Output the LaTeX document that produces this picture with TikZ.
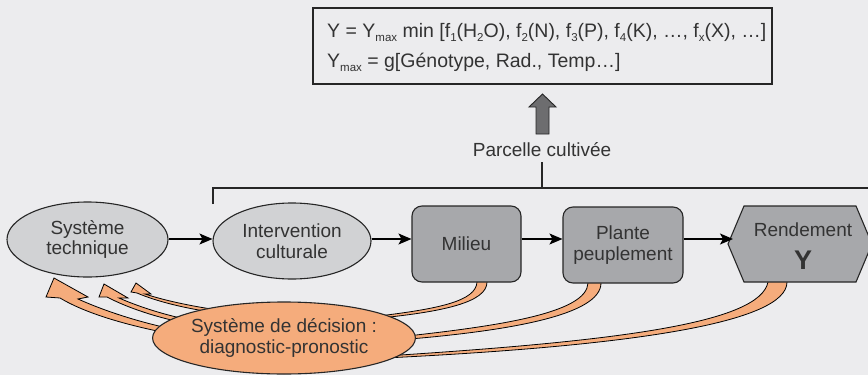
\documentclass[tikz,border=0pt]{standalone}
\usepackage{fontspec}
\setmainfont{Liberation Sans}
\usetikzlibrary{arrows.meta,shapes.geometric}
\definecolor{bgc}{HTML}{ECECEE}
\definecolor{ellc}{HTML}{D1D2D4}
\definecolor{boxc}{HTML}{A7A8AB}
\definecolor{orc}{HTML}{F5AC7C}
\definecolor{txc}{HTML}{333333}
\definecolor{arrc}{HTML}{6D6D6F}
\definecolor{lnc}{HTML}{262626}
\pgfdeclarelayer{bgzero}
\pgfdeclarelayer{bgone}
\pgfsetlayers{bgzero,bgone,main}
\newcommand{\sbs}[1]{\raisebox{-0.45ex}{\fontsize{11.5}{11.5}\selectfont #1}}
\tikzset{
  ell/.style={ellipse, draw=lnc, line width=1.1pt, fill=ellc, inner sep=0pt, align=center, text=txc},
  rbox/.style={rectangle, rounded corners=10pt, draw=lnc, line width=1.1pt, fill=boxc, inner sep=0pt, align=center, text=txc},
  arr/.style={draw=black, line width=1.3pt, -{Stealth[length=13pt,width=11pt,inset=3pt]}},
  band/.style={fill=orc, draw=black, line width=0.8pt, line join=miter},
  lbl/.style={text=txc, inner sep=0pt}
}
\begin{document}
\begin{tikzpicture}[x=1pt,y=-1pt, font=\fontsize{19}{20.5}\selectfont]
\begin{pgfonlayer}{bgzero}
\fill[bgc] (0,0) rectangle (868,375);
\end{pgfonlayer}
\useasboundingbox (0,0) rectangle (868,375);
\clip (0,0) rectangle (868,375);

% top equation box
\node[draw=lnc, line width=1.2pt, fill=bgc, minimum width=459pt, minimum height=76pt, inner sep=0pt] (eq) at (542.5,46) {};
\node[lbl, anchor=base west, font=\fontsize{19.5}{20.5}\selectfont] (eq1) at (327,37) {Y = Y\sbs{max} min [f\sbs{1}(H\sbs{2}O), f\sbs{2}(N), f\sbs{3}(P), f\sbs{4}(K), …, f\sbs{x}(X), …]};
\node[lbl, anchor=base west, font=\fontsize{19.5}{20.5}\selectfont] (eq2) at (327,67) {Y\sbs{max} = g[Génotype, Rad., Temp…]};

% grey up arrow
\draw[fill=arrc, draw=lnc, line width=0.9pt] (536,134) -- (536,107) -- (529,107) -- (542.5,94) -- (556,107) -- (549,107) -- (549,134) -- cycle;

% parcelle
\node[lbl] (parc) at (542,150) {Parcelle cultivée};
\coordinate (brl) at (213,188);
\coordinate (brr) at (872,188);
\coordinate (brt) at (213,204);
\draw[lnc, line width=1.3pt] (parc.south) ++(0,5) -- (parc.south |- brl);
\draw[lnc, line width=1.3pt] (brt) -- (brl) -- (brr);

% main nodes
\node[ell, minimum width=161pt, minimum height=75pt] (st) at (87.5,239.5) {Système\\technique};
\node[ell, minimum width=158pt, minimum height=76pt] (iv) at (292,241) {Intervention\\culturale};
\node[rbox, minimum width=109pt, minimum height=76pt] (mil) at (466.5,244) {Milieu};
\node[rbox, minimum width=120pt, minimum height=76pt] (pl) at (623,245) {Plante\\peuplement};
\draw[lnc, line width=1.1pt, fill=boxc] (728,244) -- (744,206) -- (856,206) -- (872,244) -- (856,282) -- (744,282) -- cycle;
\node[lbl] (rend) at (803,230) {Rendement};
\node[lbl, font=\bfseries\fontsize{27}{27}\selectfont] (ry) at (803,260) {Y};
\coordinate (ay) at (0,239);
\coordinate (rin) at (733,239);

\draw[arr] (st.east |- ay) -- (iv.west |- ay);
\draw[arr] (iv.east |- ay) -- (mil.west |- ay);
\draw[arr] (mil.east |- ay) -- (pl.west |- ay);
\draw[arr] (pl.east |- ay) -- (rin);

% decision ellipse
\node[ell, fill=orc, minimum width=256pt, minimum height=72pt] (dec) at (284,338) {Système de décision :\\diagnostic-pronostic};

% orange bands and arrows behind
\begin{pgfonlayer}{bgone}
\draw[band] (54,278) -- (46,297) -- (60,298) .. controls (85,313) and (125,325) .. (172,334) -- (172,329) .. controls (130,320) and (98,308) .. (78,299) -- (88,297) -- cycle;
\draw[band] (104,284) -- (99,297) -- (107,297) .. controls (128,308) and (158,318) .. (190,324) -- (190,320) .. controls (160,314) and (135,305) .. (119,298) -- (128,298) -- cycle;
\draw[band] (136,283) -- (131,292) -- (137,293) .. controls (158,302) and (188,309) .. (218,313) -- (218,310) .. controls (190,306) and (163,300) .. (145,294) -- (151,294) -- cycle;
\draw[band] (477,276) -- (477,282) .. controls (476,301) and (440,309) .. (370,317) -- (370,319) .. controls (445,312) and (487,302) .. (487,282) -- (487,276) -- cycle;
\draw[band] (588,276) -- (588,283) .. controls (587,313) and (500,326) .. (398,337) -- (398,340) .. controls (510,331) and (601,315) .. (601,283) -- (601,276) -- cycle;
\draw[band] (768,276) -- (768,282) .. controls (760,323) and (620,341) .. (385,356) -- (385,358) .. controls (630,346) and (787,323) .. (787,282) -- (787,276) -- cycle;
\end{pgfonlayer}
\end{tikzpicture}
\end{document}
